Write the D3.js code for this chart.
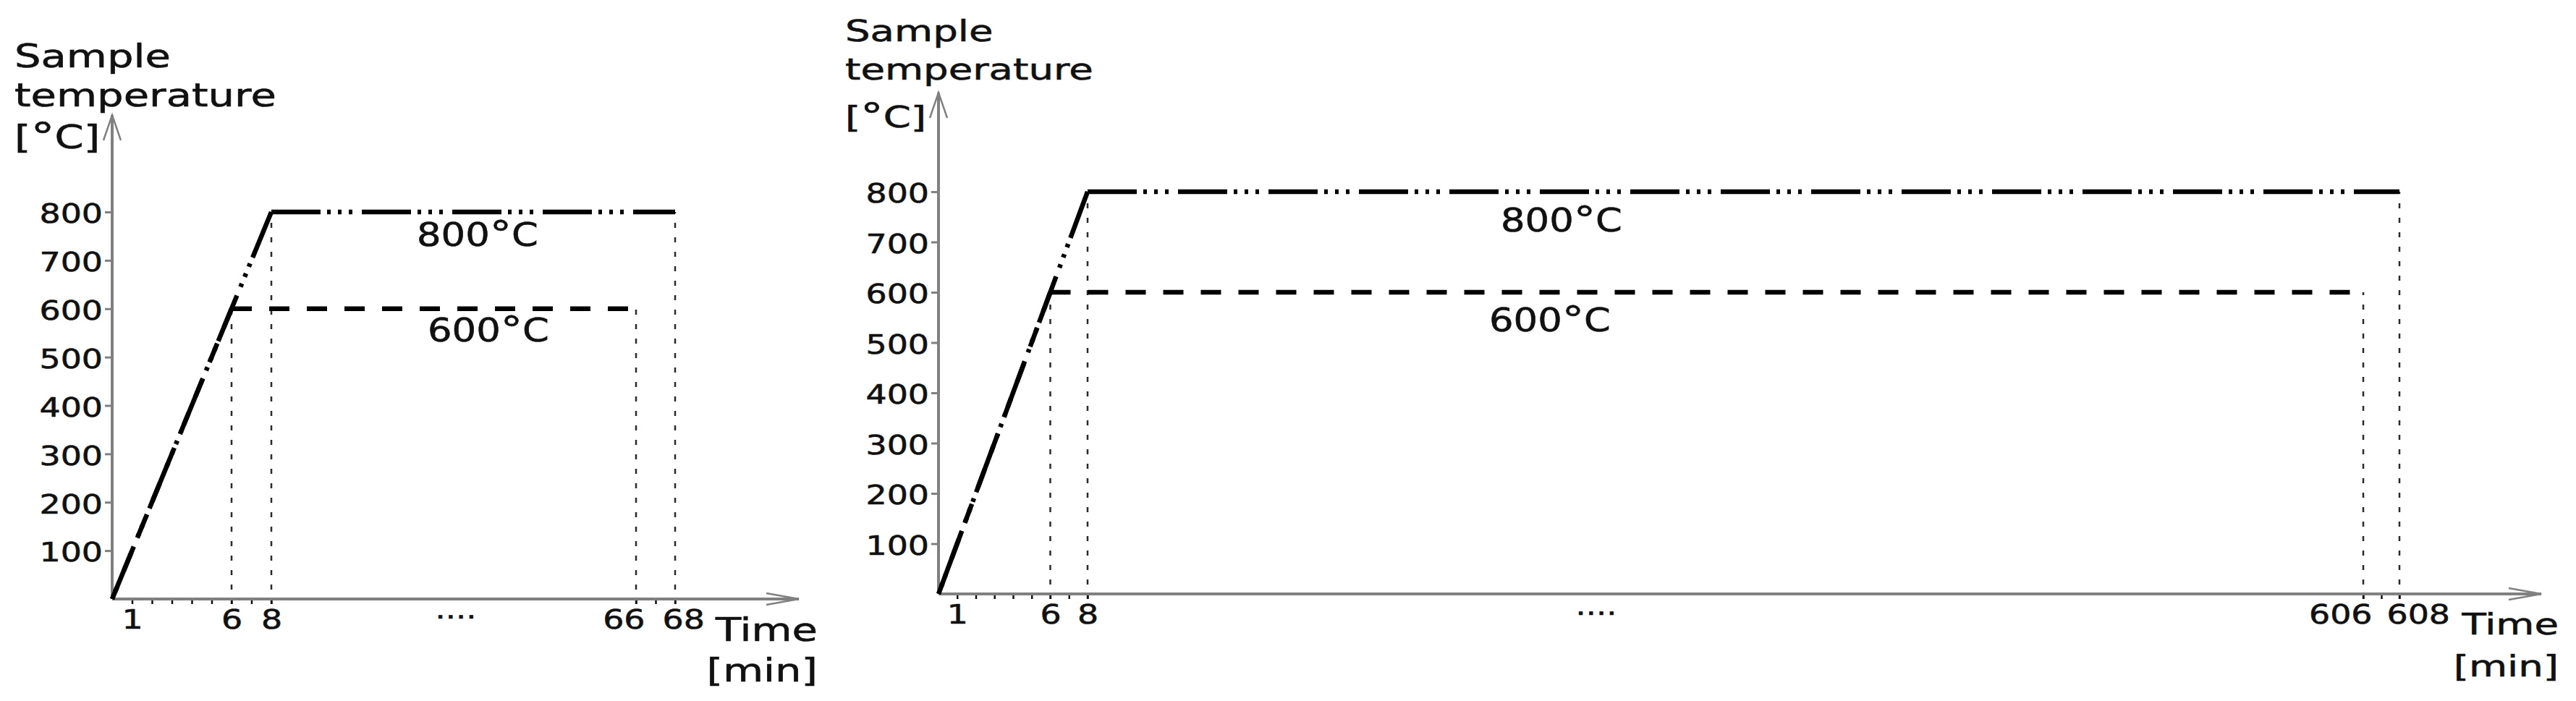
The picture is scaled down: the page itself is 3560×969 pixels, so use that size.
<!DOCTYPE html>
<html>
<head>
<meta charset="utf-8">
<script src="https://cdn.jsdelivr.net/npm/d3@7"></script>
<style>
  body { margin: 0; background: #fff; }
  svg { display: block; }
  text { font-family: "DejaVu Sans", Verdana, sans-serif; fill: #111; stroke: #111; stroke-width: 0.6px; }
</style>
</head>
<body>
<div id="wrap"></div>
<script>

// values
const tempTicks = [100, 200, 300, 400, 500, 600, 700, 800]

const shortMinutes = [1, 2, 3, 4, 5, 6, 7, 8, 66, 67, 68]
const shortLabels = [1, 6, 8, 66, 68]
const shortDomain = [0, 8, 66, 68]
const short800 = { time: [0, 8, 68], temp: [0, 800, 800] }
const short600 = { time: [0, 6, 66], temp: [0, 600, 600] }

const longMinutes = [1, 2, 3, 4, 5, 6, 7, 8, 606, 607, 608]
const longLabels = [1, 6, 8, 606, 608]
const longDomain = [0, 8, 606, 608]
const long800 = { time: [0, 8, 608], temp: [0, 800, 800] }
const long600 = { time: [0, 6, 606], temp: [0, 600, 600] }

const SX = 1.24   // the source picture is stretched sideways

const svg = d3.select("#wrap").append("svg")
    .attr("width", 3560)
    .attr("height", 969)

function stretch(sel) {
  sel.each(function() {
    const t = d3.select(this)
    const x = +t.attr("x") || 0
    t.attr("x", x / SX).attr("transform", `scale(${SX},1)`)
  })
}

function label(g, x, y, txt, size, anchor, sx) {
  const t = g.append("g")
      .attr("transform", `translate(${x},${y})`)
    .append("text")
      .attr("text-anchor", anchor || "start")
      .attr("font-size", size)
      .attr("transform", `scale(${sx || SX},1)`)
  // the degree sign is a raised small "o" in the source
  const parts = txt.split("°")
  t.append("tspan").text(parts[0])
  if (parts.length > 1) {
    t.append("tspan").attr("font-size", size * 1.15).attr("dy", 1).text("°")
    t.append("tspan").attr("dy", -1).text(parts[1])
  }
}

function drawChart(cfg) {
  const g = svg.append("g")

  const xScale = d3.scaleLinear()
    .domain(cfg.domain)
    .range(cfg.xRange)

  const yScale = d3.scaleLinear()
    .domain([0, 800])
    .range(cfg.yRange)

  const y0 = yScale(0)
  const x0 = xScale(0)

  // thin dotted guides from the corners down to the time axis
  const corners = []
  ;[cfg.s600, cfg.s800].forEach(s => {
    s.time.forEach((t, i) => { if (s.temp[i] > 0) corners.push([t, s.temp[i]]) })
  })
  g.selectAll(".guide")
    .data(corners)
    .enter().append("line")
      .attr("x1", d => xScale(d[0]))
      .attr("x2", d => xScale(d[0]))
      .attr("y1", y0 + 7)
      .attr("y2", d => yScale(d[1]))
      .attr("stroke", "#2a2a2a")
      .attr("stroke-width", 2.5)
      .attr("stroke-dasharray", "7,13")

  // axes
  const yAxis = g.append("g")
      .attr("transform", `translate(${x0},0)`)
      .call(d3.axisLeft(yScale).tickValues(tempTicks).tickSize(10).tickPadding(3))
  yAxis.select(".domain").remove()
  yAxis.selectAll(".tick line").attr("stroke", "#808080").attr("stroke-width", 3)
  yAxis.selectAll(".tick text")
      .attr("font-size", 37)
      .attr("font-family", "DejaVu Sans, Verdana, sans-serif")
      .attr("fill", "#1a1a1a")
      .attr("dy", "0.4em")
      .call(stretch)

  const xAxis = g.append("g")
      .attr("transform", `translate(0,${y0})`)
      .call(d3.axisBottom(xScale)
        .tickValues(cfg.minutes)
        .tickSize(7)
        .tickFormat(d => cfg.labels.includes(d) ? d : ""))
  xAxis.select(".domain").remove()
  xAxis.selectAll(".tick line").attr("stroke", "#111").attr("stroke-width", 2.5)
  const n = cfg.labels.length
  xAxis.selectAll(".tick text")
      .attr("font-size", 37)
      .attr("font-family", "DejaVu Sans, Verdana, sans-serif")
      .attr("fill", "#1a1a1a")
      .attr("y", 41)
      .attr("dy", 0)
      .each(function(d) {
        const t = d3.select(this)
        if (d === cfg.labels[n - 2]) t.attr("text-anchor", "end").attr("x", 12)
        if (d === cfg.labels[n - 1]) t.attr("text-anchor", "start").attr("x", -18)
      })
      .call(stretch)

  // axis lines with open arrow heads
  const axisColor = "#808080"
  g.append("path")
      .attr("d", `M${x0},${y0}V${cfg.arrowY}`)
      .attr("stroke", axisColor)
      .attr("stroke-width", 4)
  g.append("path")
      .attr("d", `M${x0 - 12},${cfg.arrowY + 35}L${x0},${cfg.arrowY}L${x0 + 12},${cfg.arrowY + 35}`)
      .attr("fill", "none")
      .attr("stroke", axisColor)
      .attr("stroke-width", 2.5)
  g.append("path")
      .attr("d", `M${x0},${y0}H${cfg.arrowX}`)
      .attr("stroke", axisColor)
      .attr("stroke-width", 4)
  g.append("path")
      .attr("d", `M${cfg.arrowX - 45},${y0 - 8}L${cfg.arrowX},${y0}L${cfg.arrowX - 45},${y0 + 8}`)
      .attr("fill", "none")
      .attr("stroke", axisColor)
      .attr("stroke-width", 2.5)

  // temperature programmes: each leg is stroked starting from the
  // corner where the hold begins, as in the source drawing
  const line = d3.line()
    .x(d => xScale(d[0]))
    .y(d => yScale(d[1]))

  function drawSeries(s, dash) {
    const pts = s.time.map((t, i) => [t, s.temp[i]])
    const k = s.temp.indexOf(d3.max(s.temp))
    const legs = [pts.slice(0, k + 1).reverse(), pts.slice(k)]
    g.selectAll(null)
      .data(legs)
      .enter().append("path")
        .attr("d", line)
        .attr("fill", "none")
        .attr("stroke", "#000")
        .attr("stroke-width", 6.5)
        .attr("stroke-dasharray", dash)
  }

  drawSeries(cfg.s600, "28,24")
  drawSeries(cfg.s800, "68,9,5,10,5,10,5,13")

  // texts
  cfg.title.forEach((t, i) => label(g, cfg.titleX, cfg.titleY[i], t, cfg.titleSize, "start", cfg.titleSX))
  label(g, cfg.timeX, cfg.timeY[0], "Time", cfg.titleSize, "end", cfg.titleSX)
  label(g, cfg.timeX, cfg.timeY[1], "[min]", cfg.titleSize, "end", cfg.titleSX)
  label(g, cfg.ann800[0], cfg.ann800[1], "800°C", 44, "middle", 1.2)
  label(g, cfg.ann600[0], cfg.ann600[1], "600°C", 44, "middle", 1.2)
  label(g, cfg.gap[0], cfg.gap[1], "....", 36, "middle")
}

const titleLines = ["Sample", "temperature", "[°C]"]

drawChart({
  domain: shortDomain, xRange: [155, 375, 879, 933], yRange: [828, 293],
  minutes: shortMinutes, labels: shortLabels, s800: short800, s600: short600,
  arrowX: 1104, arrowY: 159,
  title: titleLines, titleX: 20, titleY: [93, 147, 205], titleSize: 45, titleSX: 1.28,
  timeX: 1130, timeY: [886, 942],
  ann800: [660, 340], ann600: [675, 472], gap: [630, 855]
})

drawChart({
  domain: longDomain, xRange: [1297, 1503, 3266, 3316], yRange: [821, 265],
  minutes: longMinutes, labels: longLabels, s800: long800, s600: long600,
  arrowX: 3512, arrowY: 128,
  title: titleLines, titleX: 1168, titleY: [57, 110, 176], titleSize: 41, titleSX: 1.33,
  timeX: 3536, timeY: [877, 935],
  ann800: [2158, 320], ann600: [2142, 458], gap: [2206, 850]
})

</script>
</body>
</html>
